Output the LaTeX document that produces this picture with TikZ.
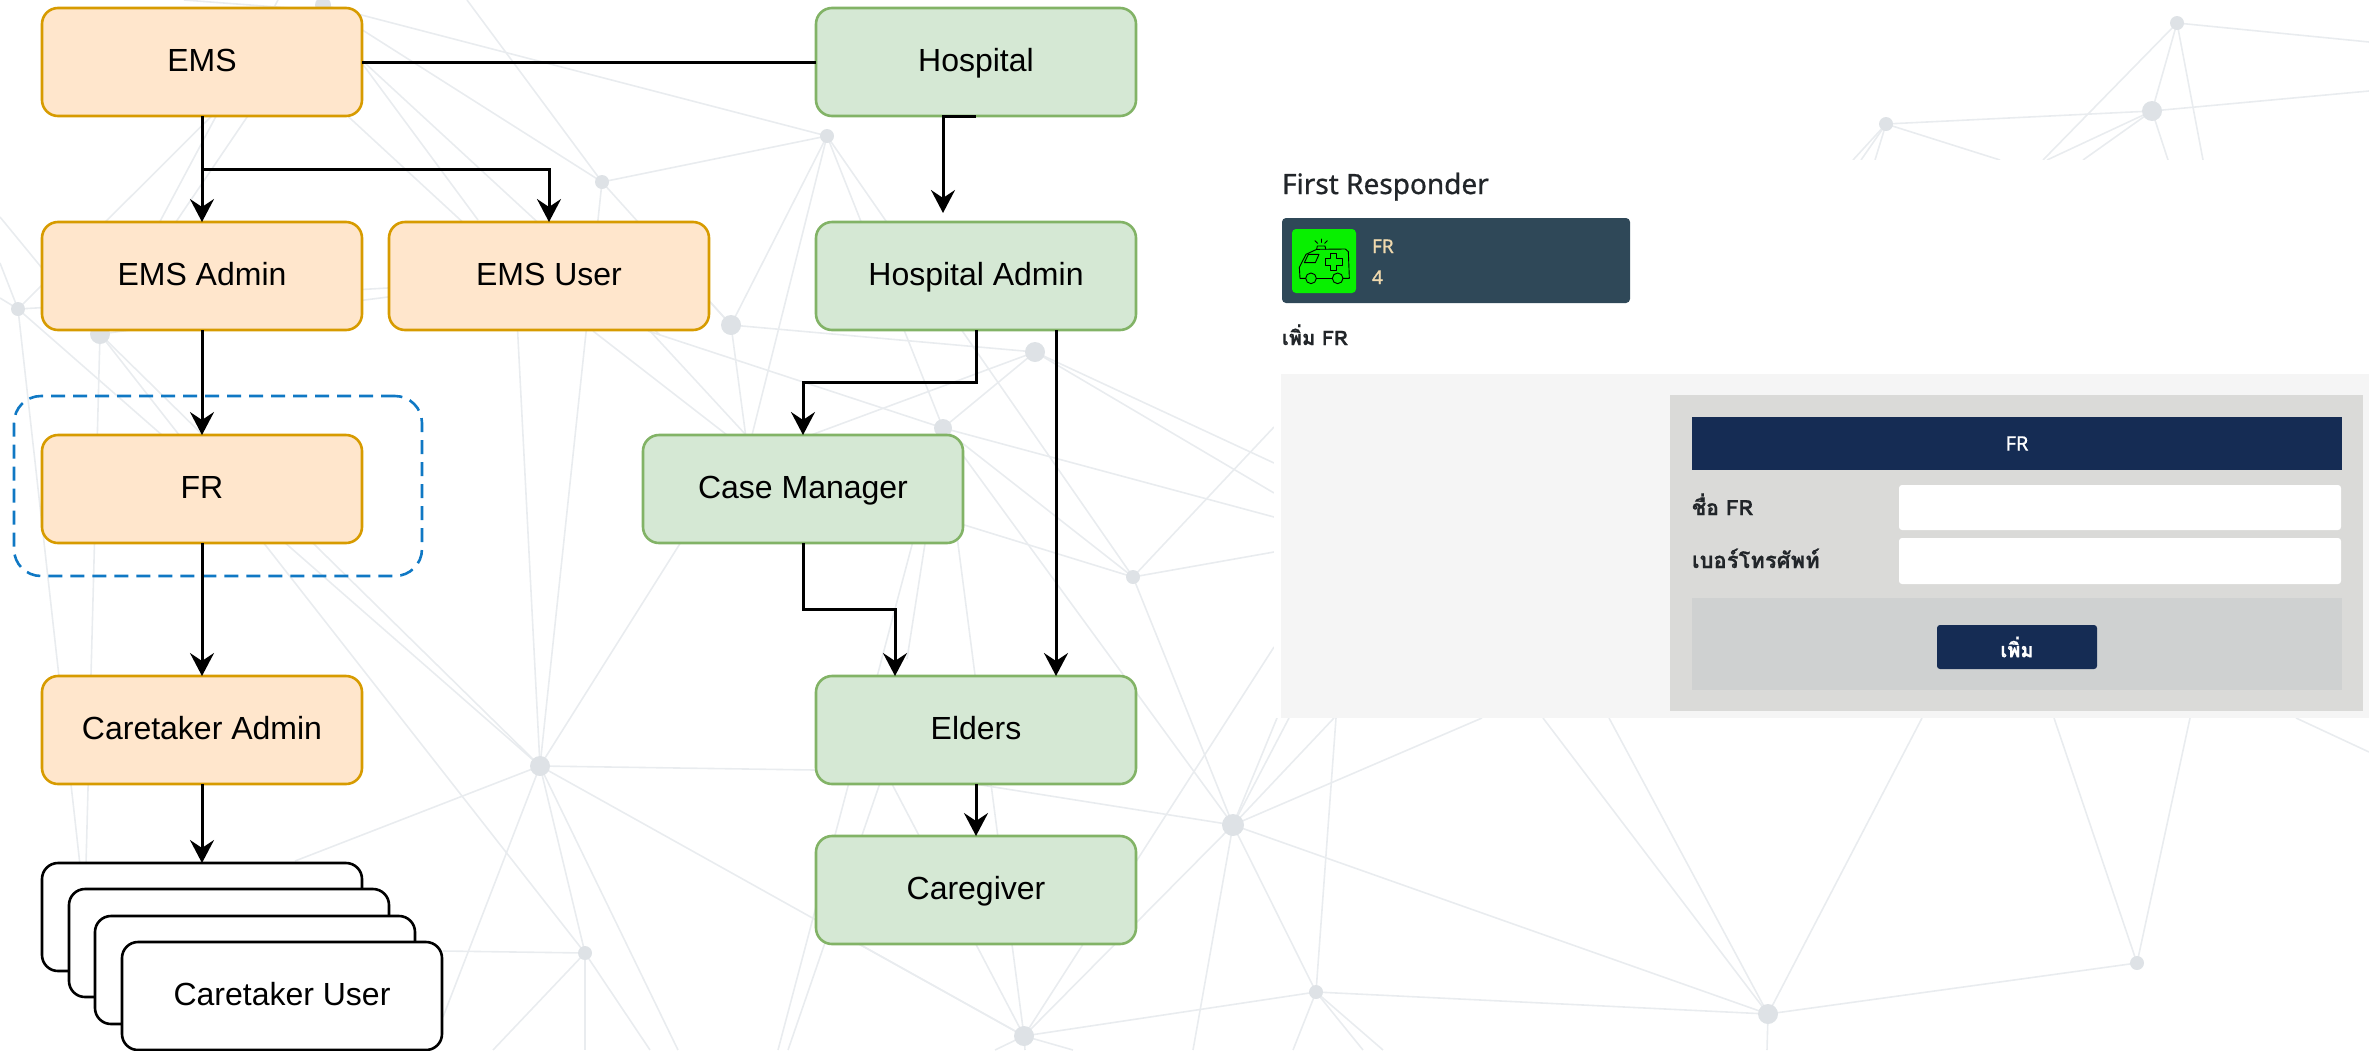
\documentclass[tikz,border=0pt]{standalone}
\usepackage{fontspec}
\setmainfont{Liberation Sans}
\newfontfamily\uifont[FakeBold=0.9]{Noto Sans}
\newfontfamily\thaifont[Script=Thai,BoldFeatures={FakeBold=0.6}]{Loma}
\usetikzlibrary{arrows.meta}
\definecolor{orangefill}{HTML}{FFE6CC}
\definecolor{orangeline}{HTML}{D79B00}
\definecolor{greenfill}{HTML}{D5E8D4}
\definecolor{greenline}{HTML}{82B366}
\definecolor{groupblue}{HTML}{0F78C4}
\definecolor{netline}{HTML}{E9ECEF}
\definecolor{netdot}{HTML}{DEE2E6}
\definecolor{titleink}{HTML}{212529}
\definecolor{cardbg}{HTML}{2F4858}
\definecolor{cardgreen}{HTML}{08F000}
\definecolor{cardtext}{HTML}{F0D9AE}
\definecolor{panelbg}{HTML}{F5F5F5}
\definecolor{formbg}{HTML}{DADAD8}
\definecolor{navy}{HTML}{152C54}
\definecolor{footbg}{HTML}{CFD1D1}
\tikzset{
  flowbox/.style={rounded corners=16pt,minimum width=320pt,minimum height=108pt,inner sep=0pt,outer sep=0pt,line width=2.6pt,text height=22pt,text depth=4pt,font=\fontsize{32}{36}\selectfont},
  emsbox/.style={flowbox,draw=orangeline,fill=orangefill},
  hospbox/.style={flowbox,draw=greenline,fill=greenfill},
  userbox/.style={flowbox,draw=black,fill=white},
  groupbox/.style={draw=groupblue,line width=2.6pt,rounded corners=27pt,dash pattern=on 14pt off 8pt,minimum width=408pt,minimum height=180pt,inner sep=0pt},
  flow/.style={draw=black,line width=3pt,-{Stealth[length=23pt,width=24pt,inset=8pt]}},
  plainflow/.style={draw=black,line width=3pt},
  netedge/.style={draw=netline,line width=1.6pt},
  uibox/.style={inner sep=0pt,outer sep=0pt},
  uitext/.style={inner sep=0pt,outer sep=0pt},
  icon/.style={draw=black,line width=0.9pt,line join=round,line cap=round},
}
\begin{document}
\begin{tikzpicture}[x=1pt,y=-1pt]
\useasboundingbox (0,0) rectangle (2369,1050);
% background network
\foreach \n/\px/\py in {A/323/5,B/602/182,C/827/136,D/18/309,E/100/334,F/731/325,G/1035/352,H/943/428,I/1133/577,J/540/766,K/585/953,L/1024/1036,M/1233/825,N/1316/992,O/1768/1014,P/2137/963,Q/2177/23,R/2152/111,S/1886/124}
  \coordinate (\n) at (\px,\py);
\foreach \p/\q in {A/C,A/B,A/D,A/E,B/C,B/F,B/J,C/F,C/H,C/I,D/J,E/J,E/K,F/G,G/H,H/I,H/M,I/M,J/K,J/L,L/M,L/N,M/N,M/O,N/O,O/P,Q/R,R/S}
  \draw[netedge] (\p) -- (\q);
\foreach \p/\px/\py in {
  B/467/0,D/0/263,D/0/298,D/80/865,E/86/865,E/278/0,D/388/288,E/388/297,
  J/515/280,J/295/861,J/443/1017,J/678/1050,J/815/770,J/720/480,
  K/443/951,K/585/1050,K/493/1050,K/650/1050,
  F/711/303,F/760/543,C/752/435,
  G/811/435,G/1274/463,G/1274/493,
  H/1274/517,H/648/331,H/778/1050,H/907/659,H/975/675,
  I/880/499,I/1274/427,I/1274/552,
  L/1274/647,L/892/784,L/857/943,L/991/784,L/995/1050,L/1025/1050,L/1073/1050,
  M/975/784,M/1193/1050,M/1277/718,M/1289/718,M/1334/718,M/1482/718,
  N/1336/718,N/1293/1050,N/1363/1050,N/1383/1050,
  O/1543/718,O/1609/718,O/1922/718,O/1767/1050,
  P/2054/718,P/2190/718,
  Q/2369/42,Q/2043/160,Q/2203/160,
  R/2369/91,R/2168/160,R/2047/160,R/2083/160,
  S/1853/160,S/1861/160,S/1875/160,S/2000/160}
  \draw[netedge] (\p) -- (\px,\py);
\foreach \ax/\ay/\bx/\by in {
  300/72/520/275, 330/20/478/220, 340/40/660/335,
  593/331/727/435, 650/331/746/435, 0/217/60/290,
  880/783/788/1050, 2296/718/2369/752, 184/0/290/8}
  \draw[netedge] (\ax,\ay) -- (\bx,\by);
\foreach \n/\r in {A/8,B/7,C/7,D/7,E/10,F/10,G/10,H/9,I/7,J/10,K/7,L/10,M/11,N/7,O/10,P/7,Q/7,R/10,S/7}
  \fill[netdot] (\n) circle[radius=\r pt];
% cover behind the screenshot
\fill[white] (1274,160) rectangle (2369,718);
% left diagram
\node[groupbox] (group) at (218,486) {};
\node[emsbox] (ems) at (202,62) {EMS};
\node[hospbox] (hosp) at (976,62) {Hospital};
\node[emsbox] (emsadmin) at (202,276) {EMS Admin};
\node[emsbox] (emsuser) at (549,276) {EMS User};
\node[hospbox] (hadmin) at (976,276) {Hospital Admin};
\node[emsbox] (fr) at (202,489) {FR\hspace{15pt}};
\node[hospbox] (cm) at (803,489) {Case Manager};
\node[emsbox] (cadmin) at (202,730) {Caretaker Admin};
\node[hospbox] (elders) at (976,730) {Elders};
\node[hospbox] (caregiver) at (976,890) {Caregiver};
\node[userbox] (cu1) at (202,917) {};
\node[userbox] (cu2) at (229,943) {};
\node[userbox] (cu3) at (255,970) {};
\node[userbox] (cu4) at (282,996) {Caretaker User};
\coordinate (hadmintop) at (943,222);
\coordinate (hadminout) at (1056,330);
\coordinate (eldersleft) at (895,676);
\draw[plainflow] (ems.east) -- (hosp.west);
\draw[flow] (ems.south) -- (emsadmin.north);
\draw[flow] (ems.south) -- ++(0,53) -| (emsuser.north);
\draw[flow,shorten >=9pt] (hosp.south) -| (hadmintop);
\draw[flow] (emsadmin.south) -- (fr.north);
\draw[flow] (hadmin.south) -- ++(0,52) -| (cm.north);
\draw[flow] (hadminout) -- (hadminout |- elders.north);
\draw[flow] (fr.south) -- (cadmin.north);
\draw[flow] (cm.south) -- ++(0,66) -| (eldersleft);
\draw[flow] (cadmin.south) -- (cu1.north);
\draw[flow] (elders.south) -- (caregiver.north);
% right screenshot
\node[uitext,anchor=base west,text=titleink,font=\uifont\fontsize{28}{32}\selectfont] (title) at (1282,194) {First Responder};
\node[uibox,fill=cardbg,rounded corners=4pt,minimum width=348pt,minimum height=85pt] (card) at (1456,260.5) {};
\node[uibox,fill=cardgreen,rounded corners=4pt,minimum width=64pt,minimum height=64pt] (cardicon) at (1324,261) {};
\begin{scope}[shift={(1270,150)},xscale=1/3,yscale=1/3]
  \draw[icon] (107,385) -- (90,385) -- (88,352) -- (108,313) -- (140,298) -- (226,297) -- (235,305) -- (238,385) -- (219,385);
  \draw[icon] (139,385) -- (187,385);
  \draw[icon] (115,313) -- (147,313) -- (136,338) -- (103,338) -- cycle;
  \draw[icon] (123,385) circle[radius=16pt];
  \draw[icon] (203,385) circle[radius=16pt];
  \draw[icon] (180,310) -- (200,310) -- (200,325) -- (216,325) -- (216,345) -- (200,345) -- (200,360) -- (180,360) -- (180,345) -- (165,345) -- (165,325) -- (180,325) -- cycle;
  \draw[icon] (140,297) -- (142,288) -- (165,288) -- (167,297);
  \draw[icon] (153,267) -- (153,277);
  \draw[icon] (135,272) -- (143,280);
  \draw[icon] (172,272) -- (164,280);
\end{scope}
\node[uitext,anchor=base west,text=cardtext,font=\uifont\fontsize{19}{22}\selectfont] (cardlabel) at (1372,253) {FR};
\node[uitext,anchor=base west,text=cardtext,font=\uifont\fontsize{19}{22}\selectfont] (cardcount) at (1372,284) {4};
\node[uitext,anchor=base west,text=titleink,font=\thaifont\bfseries\fontsize{20}{22}\selectfont] (addlabel) at (1282,345) {เพิ่ม FR};
\node[uibox,fill=panelbg,minimum width=1088pt,minimum height=344pt] (panel) at (1825,546) {};
\node[uibox,fill=formbg,minimum width=693pt,minimum height=316pt] (form) at (2016.5,553) {};
\node[uibox,fill=navy,minimum width=650pt,minimum height=53pt,text=white,font=\uifont\fontsize{20}{24}\selectfont] (formhead) at (2017,443.5) {FR};
\node[uitext,anchor=base west,text=titleink,font=\thaifont\bfseries\fontsize{21}{24}\selectfont] (namelabel) at (1692,515) {ชื่อ FR};
\node[uibox,fill=white,rounded corners=3pt,minimum width=442pt,minimum height=45pt] (namefield) at (2120,507.5) {};
\node[uitext,anchor=base west,text=titleink,font=\thaifont\bfseries\fontsize{22}{24}\selectfont] (phonelabel) at (1692,568) {เบอร์โทรศัพท์};
\node[uibox,fill=white,rounded corners=3pt,minimum width=442pt,minimum height=46pt] (phonefield) at (2120,561) {};
\node[uibox,fill=footbg,minimum width=650pt,minimum height=92pt] (formfoot) at (2017,644) {};
\node[uibox,fill=navy,rounded corners=3pt,minimum width=160pt,minimum height=44pt,text=white,font=\thaifont\bfseries\fontsize{20}{22}\selectfont] (addbutton) at (2017,647) {เพิ่ม};
\end{tikzpicture}
\end{document}
